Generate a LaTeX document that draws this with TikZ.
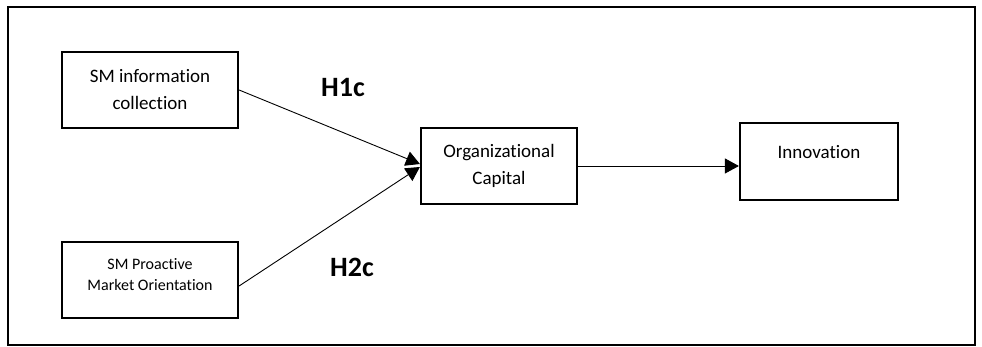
\documentclass[tikz,border=0pt]{standalone}
\usepackage{fontspec}
\setmainfont[Ligatures=NoCommon]{Carlito}
\usetikzlibrary{arrows.meta}

\begin{document}
\begin{tikzpicture}[x=1pt, y=1pt,
    box/.style={rectangle, draw, line width=2.2pt, minimum width=176pt, minimum height=76pt, align=center, font=\fontsize{19}{27}\selectfont},
    hyp/.style={font=\fontsize{28}{30}\selectfont\bfseries},
    link/.style={line width=0.9pt, -{Triangle[length=14pt, width=15pt]}}]
    \useasboundingbox (0,0) rectangle (982,347);
    % Outer frame
    \draw[line width=2pt] (8,2) rectangle (975,340);

    % Draw nodes
    \node[box] (info) at (150,257) {SM information\\collection};
    \node[box, font=\fontsize{16}{21}\selectfont, text depth=10pt] (proactive) at (150,67) {SM Proactive\\Market Orientation};
    \node[box, minimum width=156pt] (capital) at (499,181) {Organizational\\Capital};
    \node[box, minimum width=158pt, minimum height=77pt, text depth=20pt] (innov) at (819,185.5) {Innovation};

    % Draw connections
    \draw[link] (info.east) -- ([yshift=2pt]capital.west);
    \draw[link] ([yshift=-6pt]proactive.east) -- ([yshift=-1pt]capital.west);
    \draw[link] (capital.east) -- (capital.east -| innov.west);

    % Labels
    \node[hyp] (h1) at (343,259.5) {H1c};
    \node[hyp] (h2) at (352,79.5) {H2c};
\end{tikzpicture}
\end{document}
